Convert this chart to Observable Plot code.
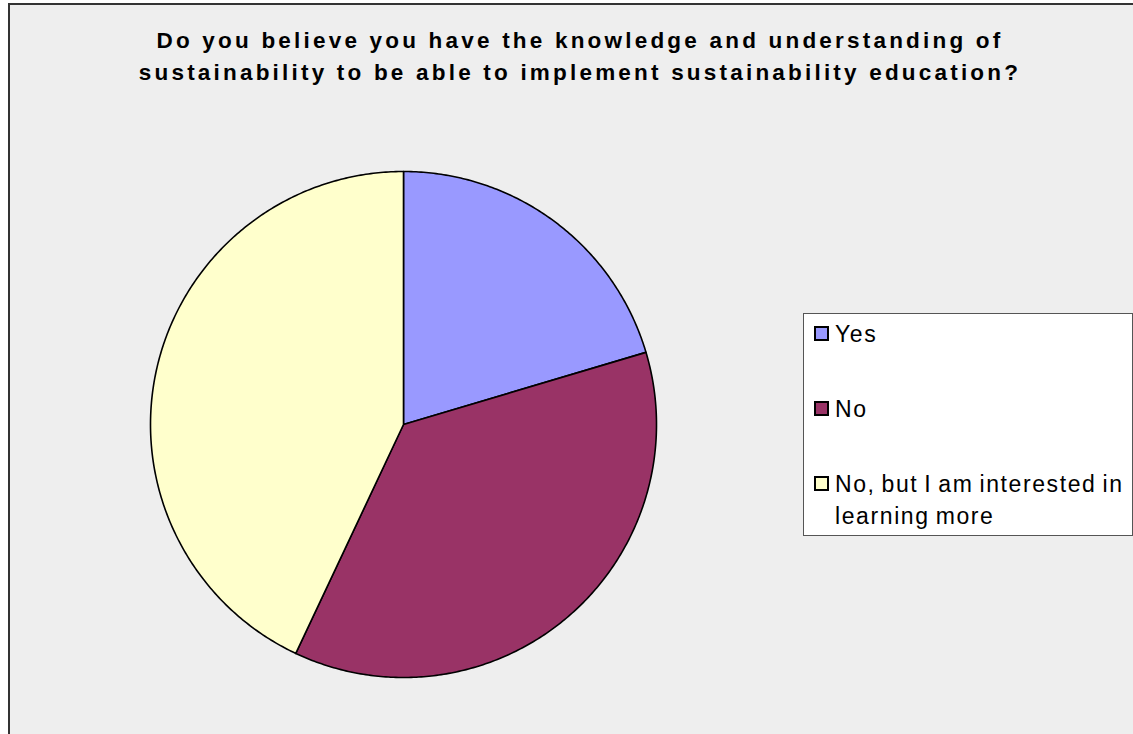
<!DOCTYPE html>
<html>
<head>
<meta charset="utf-8">
<script src="https://cdn.jsdelivr.net/npm/d3@7"></script>
<script src="https://cdn.jsdelivr.net/npm/@observablehq/plot@0.6"></script>
<style>
  html, body { margin: 0; padding: 0; background: #ffffff; overflow: hidden; }
  body { width: 1133px; height: 734px; position: relative; font-family: "Liberation Sans", Arial, sans-serif; }
  #frame { position: absolute; left: 8px; top: 3px; width: 1140px; height: 760px; background: #eeeeee; border: 2px solid #333333; box-sizing: border-box; }
  #title { position: absolute; left: 0; width: 1140px; top: 20px; text-align: center; font-weight: bold; font-size: 22.5px; letter-spacing: 3.2px; line-height: 32px; color: #000; }
  #pie { position: absolute; left: 133px; top: 159px; }
  #legend { position: absolute; left: 793px; top: 308px; width: 330px; height: 223px; background: #fff; border: 1px solid #555; box-sizing: border-box; font-size: 23px; letter-spacing: 1.6px; word-spacing: -2px; color: #000; }
  .item { position: absolute; left: 10px; display: flex; align-items: flex-start; }
  .sw { width: 11px; height: 11px; border: 2px solid #000; margin-top: 8px; margin-right: 6px; flex: none; }
  .lab { line-height: 32px; }
</style>
</head>
<body>
<div id="frame">
  <div id="title">Do you believe you have the knowledge and understanding of<br>sustainability to be able to implement sustainability education?</div>
  <div id="pie"></div>
  <div id="legend"></div>
</div>
<script>
const categories = ["Yes", "No", "No, but I am interested in learning more"];
const values = [20.4, 36.6, 43.0];
const colors = ["#9999ff", "#993366", "#ffffcc"];

const data = categories.map((c, i) => ({category: c, value: values[i]}));
const arcs = d3.pie().sort(null).value(d => d.value)(data);

// Build outline polygons for each slice from the pie angles
const pts = [];
arcs.forEach(a => {
  const name = a.data.category;
  pts.push({category: name, x: 0, y: 0});
  const n = Math.max(8, Math.ceil((a.endAngle - a.startAngle) / 0.01));
  for (let k = 0; k <= n; k++) {
    const t = a.startAngle + (a.endAngle - a.startAngle) * k / n;
    pts.push({category: name, x: Math.sin(t), y: -Math.cos(t)});
  }
});

const S = 520, R = 253, k = (S / 2) / R;
const chart = Plot.plot({
  width: S, height: S, margin: 0,
  style: {background: "transparent", overflow: "visible"},
  x: {domain: [-k, k], axis: null},
  y: {domain: [-k, k], range: [0, S], axis: null},
  color: {domain: categories, range: colors},
  marks: [
    Plot.line(pts, {x: "x", y: "y", z: "category", fill: "category", stroke: "#000", strokeWidth: 1.6, strokeLinejoin: "round", curve: "linear-closed"})
  ]
});
document.getElementById("pie").appendChild(chart);

// Legend
const legend = document.getElementById("legend");
const rows = [
  {label: "Yes", top: 4},
  {label: "No", top: 79},
  {label: "No, but I am interested in<br>learning more", top: 154}
];
rows.forEach((r, i) => {
  const it = document.createElement("div");
  it.className = "item";
  it.style.top = r.top + "px";
  it.innerHTML = `<div class="sw" style="background:${colors[i]}"></div><div class="lab">${r.label}</div>`;
  legend.appendChild(it);
});
</script>
</body>
</html>
